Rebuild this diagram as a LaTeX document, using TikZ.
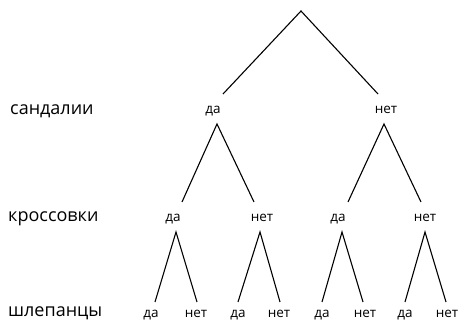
\documentclass[tikz,border=0pt]{standalone}
\usepackage{fontspec}
\setmainfont{Open Sans}
\begin{document}
\begin{tikzpicture}[x=1pt,y=-1pt,
  branch/.style={line width=1.1pt, black},
  ans/.style={anchor=base, inner sep=0pt, font=\fontsize{13.5}{15}\selectfont},
  rowlab/.style={anchor=base west, inner sep=0pt, font=\fontsize{18}{20}\selectfont}]
\useasboundingbox (0,0) rectangle (459,321);
% row labels
\node[rowlab] (r1) at (10,115) {сандалии};
\node[rowlab] (r2) at (8,222) {кроссовки};
\node[rowlab] (r3) at (8,316.3) {шлепанцы};
% root
\coordinate (root) at (301,11);
% level 1
\coordinate (e1) at (223,94);
\coordinate (e2) at (378,94);
\node[ans] (n1) at (213,114) {да};
\node[ans] (n2) at (386,114) {нет};
\coordinate (t1) at (217,124);
\coordinate (t2) at (384,124);
\draw[branch] (e1) -- (root) -- (e2);
% level 2
\coordinate (e11) at (182,202);
\coordinate (e12) at (254,202);
\coordinate (e21) at (348,202);
\coordinate (e22) at (421,202);
\draw[branch] (e11) -- (t1) -- (e12);
\draw[branch] (e21) -- (t2) -- (e22);
\node[ans] (n11) at (173,221.5) {да};
\node[ans] (n12) at (262,221.5) {нет};
\node[ans] (n21) at (338,221.5) {да};
\node[ans] (n22) at (425,221.5) {нет};
\coordinate (t11) at (176,232);
\coordinate (t12) at (260,232);
\coordinate (t21) at (342,232);
\coordinate (t22) at (425,232);
% level 3
\coordinate (e111) at (155,302);
\coordinate (e112) at (197,302);
\coordinate (e121) at (238,302);
\coordinate (e122) at (280,302);
\coordinate (e211) at (322,302);
\coordinate (e212) at (363,302);
\coordinate (e221) at (405,302);
\coordinate (e222) at (446,302);
\draw[branch] (e111) -- (t11) -- (e112);
\draw[branch] (e121) -- (t12) -- (e122);
\draw[branch] (e211) -- (t21) -- (e212);
\draw[branch] (e221) -- (t22) -- (e222);
\node[ans] (n111) at (151,317.5) {да};
\node[ans] (n112) at (196,317.5) {нет};
\node[ans] (n121) at (238,317.5) {да};
\node[ans] (n122) at (279,317.5) {нет};
\node[ans] (n211) at (322,317.5) {да};
\node[ans] (n212) at (365,317.5) {нет};
\node[ans] (n221) at (405,317.5) {да};
\node[ans] (n222) at (447,317.5) {нет};
\end{tikzpicture}
\end{document}
